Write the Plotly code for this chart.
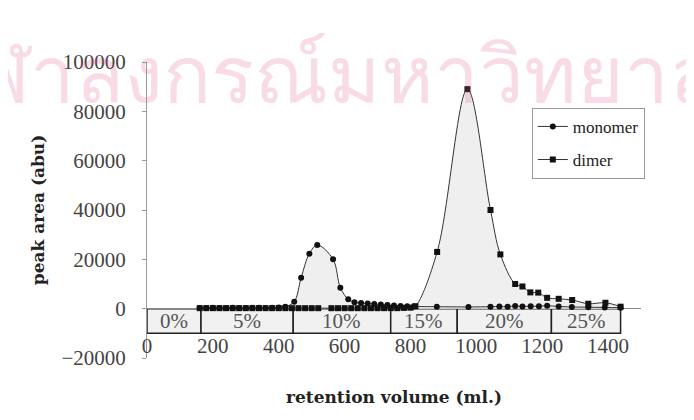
import plotly.graph_objects as go

# ---- data ----
monomer_x = [160, 180, 200, 220, 240, 260, 280, 300, 320, 340, 360, 380, 400, 420,
             447, 468, 493, 517, 565, 587, 611, 630, 650, 670, 690, 710, 730, 750,
             770, 790, 810, 880, 976, 1043, 1070, 1095, 1118, 1140, 1165, 1190,
             1215, 1250, 1290, 1340, 1390, 1438]
monomer_y = [300, 300, 350, 300, 300, 350, 300, 300, 400, 350, 300, 400, 500, 800,
             2800, 12500, 22300, 25800, 20000, 8500, 3800, 2600, 2300, 2100, 1900, 1700, 1500, 1300,
             1100, 1000, 900, 800, 700, 800, 900, 800, 1100, 900, 1000, 1000,
             1200, 900, 700, 600, 500, 400]

dimer_x = [160, 180, 200, 220, 240, 260, 280, 300, 320, 340, 360, 380, 400, 420, 440,
           460, 480, 500, 520, 560, 580, 600, 620, 640, 660, 680, 700, 720, 740, 760,
           780, 800, 815, 881, 973, 1043, 1073, 1118, 1140, 1164, 1188, 1215, 1250,
           1291, 1340, 1392, 1438]
dimer_y = [200, 200, 200, 200, 200, 200, 200, 200, 200, 200, 200, 200, 200, 200, 200,
           200, 200, 200, 200, 200, 200, 200, 200, 200, 200, 200, 200, 200, 200, 200,
           300, 400, 1000, 23000, 89000, 40000, 22000, 10000, 9000, 6600, 6500, 4400, 4000,
           3500, 2000, 2400, 800]

band_edges = [0, 164, 444, 740, 942, 1228, 1438]
band_labels = ["0%", "5%", "10%", "15%", "20%", "25%"]
band_bottom = -10000

x_ticks = [0, 200, 400, 600, 800, 1000, 1200, 1400]
y_ticks = [-20000, 0, 20000, 40000, 60000, 80000, 100000]

watermark = "จุฬาลงกรณ์มหาวิทยาลัย"

SERIF = "Liberation Serif"
TITLE_FONT = "DejaVu Serif"

fig = go.Figure()

# shaded areas under the curves (drawn first, below the marks)
for xs, ys in ((monomer_x, monomer_y), (dimer_x, dimer_y)):
    fig.add_trace(go.Scatter(
        x=xs, y=ys, mode="lines", showlegend=False, hoverinfo="skip",
        line=dict(shape="spline", width=0, color="rgba(0,0,0,0)"),
        fill="tozeroy", fillcolor="rgba(228,228,228,0.6)"))

fig.add_trace(go.Scatter(
    x=monomer_x, y=monomer_y, name="monomer", mode="lines+markers", legendgroup="m",
    line=dict(shape="spline", color="#333333", width=1),
    marker=dict(symbol="circle", size=6, color="#111111")))

fig.add_trace(go.Scatter(
    x=dimer_x, y=dimer_y, name="dimer", mode="lines+markers", legendgroup="d",
    line=dict(shape="spline", color="#333333", width=1),
    marker=dict(symbol="square", size=6, color="#111111")))

# gradient bands
for i, lab in enumerate(band_labels):
    x0, x1 = band_edges[i], band_edges[i + 1]
    fig.add_shape(type="rect", x0=x0, x1=x1, y0=band_bottom, y1=0,
                  xref="x", yref="y", line=dict(color="#222222", width=1.5),
                  fillcolor="#f1f1f1", layer="below")
    fig.add_annotation(x=(x0 + x1) / 2, y=band_bottom / 2, text=lab, showarrow=False,
                       xref="x", yref="y", font=dict(family=SERIF, size=21, color="#555555"))

# watermark of the scanned page (semi-transparent so marks show through)
fig.add_annotation(x=0.403, y=1.0, xref="paper", yref="paper", xanchor="center", yanchor="top",
                   yshift=47, text=watermark, showarrow=False,
                   font=dict(family="Noto Sans", size=80, color="rgba(225,90,140,0.22)"))

y_pos = (-9000 - y_ticks[0]) / (y_ticks[-1] - y_ticks[0])

fig.update_layout(
    width=694, height=420,
    margin=dict(l=139, r=61, t=54, b=70),
    paper_bgcolor="white", plot_bgcolor="white",
    font=dict(family=SERIF, size=21, color="#333333"),
    showlegend=True,
    legend=dict(x=0.779, y=0.845, xanchor="left", yanchor="top",
                bgcolor="white", bordercolor="#999999", borderwidth=1,
                tracegroupgap=8,
                font=dict(family=SERIF, size=17, color="#222222")),
    xaxis=dict(range=[0, 1500], tickvals=x_ticks, ticktext=[str(v) for v in x_ticks],
               showgrid=False, zeroline=False, showline=False, ticks="",
               anchor="free", position=y_pos, automargin=False,
               tickfont=dict(family=SERIF, size=21, color="#444444"),
               title=dict(text="<b>retention volume (ml.)</b>", standoff=34,
                          font=dict(family=TITLE_FONT, size=17, color="#222222"))),
    yaxis=dict(range=[-20000, 100000], tickvals=y_ticks, tickformat="d",
               showgrid=False, zeroline=True, zerolinecolor="#888888", zerolinewidth=1,
               showline=True, linecolor="#999999", linewidth=1,
               ticks="outside", ticklen=4, tickcolor="#999999",
               ticklabelstandoff=12, automargin=False,
               tickfont=dict(family=SERIF, size=21, color="#444444"),
               title=dict(text="<b>peak area (abu)</b>", standoff=12,
                          font=dict(family=TITLE_FONT, size=17, color="#222222"))),
)

fig.write_html("out.html")
